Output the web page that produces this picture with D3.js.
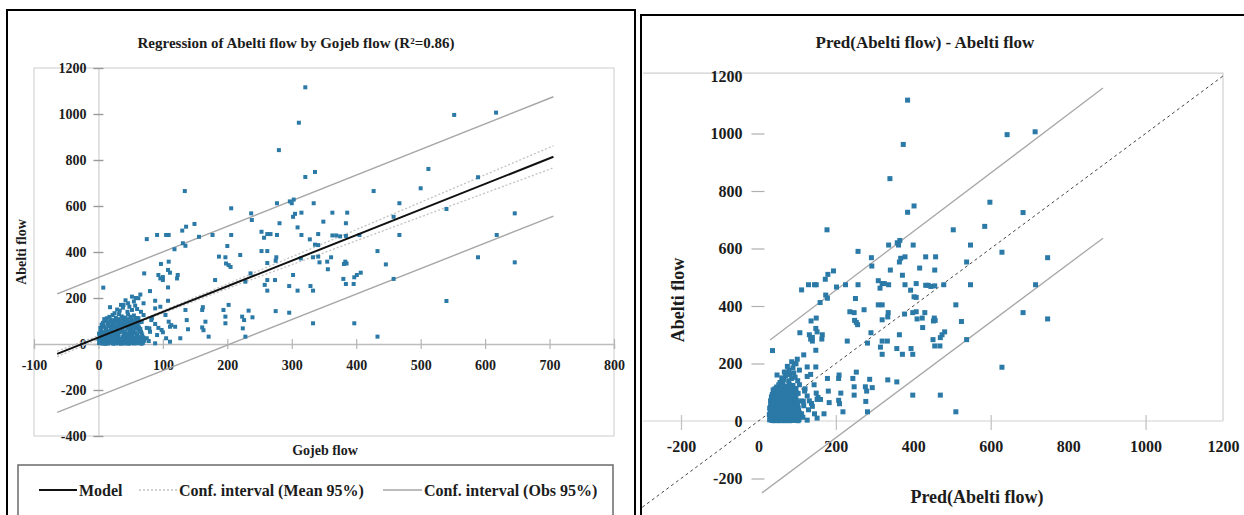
<!DOCTYPE html>
<html>
<head>
<meta charset="utf-8">
<script src="https://cdn.jsdelivr.net/npm/d3@7"></script>
<style>
  body { margin: 0; background: #fff; }
  svg text { font-family: "Liberation Serif", "Times New Roman", serif; font-weight: bold; fill: #1c1c1c; }
</style>
</head>
<body>
<svg id="chart" width="1244" height="515"></svg>
<script>
// Observed daily flows: [Gojeb flow, Abelti flow]
const flowPairs = [
  // main cloud near the origin
  [1,4],[4,10],[8,3],[12,8],[15,2],[19,12],[22,5],[26,9],[30,3],[34,11],[37,6],[41,2],[45,9],[49,4],[53,12],[57,6],[61,3],[65,10],[69,5],[3,15],[10,14],[28,14],[47,15],[63,16],
  [2,6],[6,2],[11,1],[14,13],[18,6],[23,1],[27,3],[31,15],[35,1],[39,13],[43,7],[47,1],[51,17],[55,2],[59,13],[63,7],[67,1],[71,14],
  [0,22],[5,28],[9,20],[13,31],[17,24],[21,33],[25,19],[29,27],[33,22],[38,30],[42,21],[46,34],[50,25],[54,29],[58,20],[62,31],[66,24],[70,28],[2,35],[24,36],[44,26],
  [3,25],[7,33],[11,25],[15,38],[19,18],[23,27],[27,34],[31,30],[36,18],[40,38],[44,17],[48,29],[52,36],[56,24],[60,36],[64,20],[68,37],
  [1,45],[6,40],[10,52],[14,42],[18,56],[22,44],[27,50],[31,39],[35,58],[39,47],[43,41],[48,55],[52,43],[56,51],[60,40],[64,57],[67,46],[4,60],[30,60],[50,62],
  [3,52],[8,47],[12,58],[16,48],[20,62],[25,55],[29,45],[33,52],[37,64],[41,55],[46,46],[50,50],[54,58],[58,47],[62,63],[66,53],
  [3,70],[8,78],[12,66],[16,82],[20,70],[24,76],[28,64],[33,84],[37,72],[41,80],[45,67],[49,75],[53,83],[57,69],[61,78],[65,65],
  [5,84],[10,72],[14,88],[18,76],[22,84],[26,72],[30,78],[35,78],[39,90],[43,75],[47,86],[51,70],[55,78],[59,88],[63,72],
  [7,92],[11,100],[15,95],[19,106],[23,90],[27,98],[31,108],[35,93],[39,102],[43,88],[47,97],[51,105],[55,91],[59,100],[63,94],
  [9,108],[13,112],[21,98],[25,104],[29,92],[33,100],[37,112],[41,96],[45,108],[49,90],[53,98],[57,110],[61,104],[67,96],
  [17,118],[22,126],[27,114],[32,130],[36,120],[41,115],[46,128],[50,118],[55,124],[60,113],[25,134],
  [29,150],[38,158],[48,162],[55,185],[60,152],[66,140],[18,160],[42,190],[65,215],[35,170],[58,200],
  [52,206],[62,199],[46,177],[39,170],[57,167],[70,177],[33,145],[45,140],[52,148],[70,126],[62,112],
  [88,155],[96,162],[104,126],[83,112],[111,75],[75,70],[80,53],[91,39],[98,61],[78,13],[88,3],[111,10],
  // low-to-medium flows
  [136,510],[149,522],[130,493],[75,456],[91,474],[105,474],[109,474],[131,438],[135,427],[177,474],[206,474],[156,466],
  [118,412],[109,358],[97,348],[200,426],[187,380],[197,377],[220,387],[202,343],[205,335],[198,350],
  [108,322],[111,310],[71,307],[93,300],[96,285],[100,278],[100,291],[122,285],[123,300],[181,278],[228,271],
  [7.5,245],[80,230],[108,246],[108,188],[88,188],[135,148],[161,148],[162,160],[194,148],[197,119],[202,170],
  [223,119],[226,104],[137,104],[166,97],[109,97],[113,82],[82,104],[88,87],[93,70],[79,68],[100,51],[105,25],
  [119,75],[139,64],[161,72],[163,60],[171,32],[127,25],[75,25],[197,90],[224,68],[228,32],
  // medium flows
  [238,539],[302,553],[281,525],[349,532],[384,525],[309,507],[458,553],[253,488],[262,478],[267,478],[257,462],
  [277,474],[315,474],[328,455],[341,478],[363,472],[369,472],[375,468],[384,470],[405,474],[341,430],[336,432],
  [467,474],[253,404],[262,404],[433,404],[276,377],[262,352],[275,362],[314,372],[333,377],[341,380],[343,355],
  [355,358],[361,377],[383,358],[381,348],[385,350],[356,325],[446,346],[236,307],[262,278],[274,278],[302,300],
  [258,257],[262,232],[296,252],[309,232],[329,252],[333,232],[380,283],[384,261],[396,261],[397,290],[401,300],
  [407,310],[458,283],[233,145],[239,116],[275,143],[296,136],[333,90],[397,90],[433,32],
  // high flows
  [134,665],[206,590],[321,1116],[311,962],[280,843],[321,726],[336,748],[427,665],[277,612],[297,620],[300,612],
  [303,628],[334,612],[467,612],[315,571],[305,566],[363,571],[386,571],[237,568],[552,996],[617,1006],[512,761],
  [500,677],[589,725],[540,587],[646,568],[618,474],[589,377],[646,355],[540,187]
];

// Fitted linear model: Abelti = intercept + slope * Gojeb
const modelIntercept = 28;
const modelSlope = 1.113;

// Model line and 95% intervals over the Gojeb range
const modelLine = [[-64, -43], [706, 814]];
const meanUpper = [[-64, -31], [0, 36], [80, 121], [200, 261], [400, 497], [706, 862]];
const meanLower = [[-64, -55], [0, 20], [80, 113], [200, 241], [400, 449], [706, 766]];
const obsUpper = [[-64, 218], [706, 1075]];
const obsLower = [[-64, -297], [706, 556]];

// Interval bounds in the predicted-vs-observed view
const predObsUpper = [[30, 282], [890, 1158]];
const predObsLower = [[9, -250], [890, 636]];
const identityLine = [[-300, -300], [1200, 1200]];

// Axis ticks
const leftXTicks = [-100, 0, 100, 200, 300, 400, 500, 600, 700, 800];
const leftYTicks = [-400, -200, 0, 200, 400, 600, 800, 1000, 1200];
const rightXTicks = [-200, 0, 200, 400, 600, 800, 1000, 1200];
const rightXMarks = [-200, 200, 600, 1000];
const rightYTicks = [-200, 0, 200, 400, 600, 800, 1000, 1200];
const rightYMarks = [-200, 200, 400, 600, 800, 1000];

const legendItems = ["Model", "Conf. interval (Mean 95%)", "Conf. interval (Obs 95%)"];

const pointColor = "#2b79a6";
const plainNumber = d => String(d);
const svg = d3.select("#chart");

// ---------- Left panel: regression ----------
const L = svg.append("g");
L.append("rect").attr("x", 7).attr("y", 10).attr("width", 628).attr("height", 540)
  .attr("fill", "none").attr("stroke", "#000").attr("stroke-width", 2);

const xL = d3.scaleLinear().domain([-100, 800]).range([34, 614]);
const yL = d3.scaleLinear().domain([-400, 1200]).range([436, 68]);

L.append("rect").attr("x", xL(-100)).attr("y", yL(1200))
  .attr("width", xL(800) - xL(-100)).attr("height", yL(-400) - yL(1200))
  .attr("fill", "none").attr("stroke", "#d4d4d4").attr("stroke-width", 1.2);

L.append("text").attr("x", 296).attr("y", 48).attr("text-anchor", "middle")
  .attr("font-size", 15).text("Regression of Abelti flow by Gojeb flow (R²=0.86)");

const yAxisL = L.append("g").attr("transform", `translate(${xL(0)},0)`)
  .call(d3.axisLeft(yL).tickValues(leftYTicks).tickSize(5).tickPadding(7).tickFormat(plainNumber));
yAxisL.select(".domain").attr("stroke", "#cfcfcf").attr("stroke-width", 1.2);
yAxisL.selectAll(".tick line").attr("x1", 5).attr("stroke", "#9a9a9a").attr("stroke-width", 1.4);
yAxisL.selectAll(".tick text").attr("font-size", 14).attr("font-family", "Liberation Serif").attr("font-weight", "bold");

const xAxisL = L.append("g").attr("transform", `translate(0,${yL(0)})`)
  .call(d3.axisBottom(xL).tickValues(leftXTicks).tickSize(5).tickPadding(11).tickFormat(plainNumber));
xAxisL.select(".domain").attr("stroke", "#bdbdbd").attr("stroke-width", 1.4);
xAxisL.selectAll(".tick line").attr("y1", -5).attr("stroke", "#b5b5b5").attr("stroke-width", 1.2);
xAxisL.selectAll(".tick text").attr("font-size", 14).attr("font-family", "Liberation Serif").attr("font-weight", "bold");

const lineL = d3.line().x(d => xL(d[0])).y(d => yL(d[1]));
L.append("path").attr("d", lineL(obsUpper)).attr("fill", "none").attr("stroke", "#a6a6a6").attr("stroke-width", 1.4);
L.append("path").attr("d", lineL(obsLower)).attr("fill", "none").attr("stroke", "#a6a6a6").attr("stroke-width", 1.4);
L.append("path").attr("d", lineL(meanUpper)).attr("fill", "none").attr("stroke", "#c2c2c2").attr("stroke-width", 1.3).attr("stroke-dasharray", "2,2");
L.append("path").attr("d", lineL(meanLower)).attr("fill", "none").attr("stroke", "#c2c2c2").attr("stroke-width", 1.3).attr("stroke-dasharray", "2,2");

L.append("g").selectAll("rect").data(flowPairs).join("rect")
  .attr("x", d => xL(d[0]) - 2).attr("y", d => yL(d[1]) - 2)
  .attr("width", 4).attr("height", 4).attr("fill", pointColor);

L.append("path").attr("d", lineL(modelLine)).attr("fill", "none").attr("stroke", "#111").attr("stroke-width", 2);

L.append("text").attr("x", 325).attr("y", 455).attr("text-anchor", "middle")
  .attr("font-size", 14).text("Gojeb flow");
L.append("text").attr("transform", "translate(26,252) rotate(-90)").attr("text-anchor", "middle")
  .attr("font-size", 14).text("Abelti flow");

// Legend
L.append("rect").attr("x", 18).attr("y", 465).attr("width", 595).attr("height", 70)
  .attr("fill", "#fff").attr("stroke", "#6a6a6a").attr("stroke-width", 1.5);
const legendSpots = [
  { x0: 39, x1: 77, tx: 79, stroke: "#111", width: 2, dash: null },
  { x0: 139, x1: 177, tx: 179, stroke: "#c2c2c2", width: 1.3, dash: "2,2" },
  { x0: 383, x1: 422, tx: 424, stroke: "#a6a6a6", width: 1.4, dash: null }
];
legendItems.forEach((label, i) => {
  const s = legendSpots[i];
  L.append("line").attr("x1", s.x0).attr("x2", s.x1).attr("y1", 490).attr("y2", 490)
    .attr("stroke", s.stroke).attr("stroke-width", s.width).attr("stroke-dasharray", s.dash);
  L.append("text").attr("x", s.tx).attr("y", 495.5).attr("font-size", 16).text(label);
});

// ---------- Right panel: predicted vs observed ----------
const R = svg.append("g");
R.append("rect").attr("x", 641).attr("y", 15).attr("width", 700).attr("height", 600)
  .attr("fill", "none").attr("stroke", "#000").attr("stroke-width", 2);

const xR = d3.scaleLinear().domain([-200, 1200]).range([681, 1223]);
const yR = d3.scaleLinear().domain([0, 1200]).range([421, 76]);

// plot area outline: top and right edges
R.append("path")
  .attr("d", `M643,${yR(1210)}H${xR(1200)}V${yR(0)}`)
  .attr("fill", "none").attr("stroke", "#d0d0d0").attr("stroke-width", 1.2);

R.append("text").attr("x", 925).attr("y", 48).attr("text-anchor", "middle")
  .attr("font-size", 17).text("Pred(Abelti flow) - Abelti flow");

const xAxisR = R.append("g").attr("transform", `translate(0,${yR(0)})`)
  .call(d3.axisBottom(xR).tickValues(rightXTicks).tickSize(0).tickPadding(20).tickFormat(plainNumber));
xAxisR.select(".domain").remove();
xAxisR.selectAll(".tick text").attr("font-size", 16).attr("font-family", "Liberation Serif").attr("font-weight", "bold");
R.append("line").attr("x1", 643).attr("x2", xR(1200)).attr("y1", yR(0)).attr("y2", yR(0))
  .attr("stroke", "#e0e0e0").attr("stroke-width", 1.4);
const xMarksR = R.append("g").attr("transform", `translate(0,${yR(0)})`)
  .call(d3.axisBottom(xR).tickValues(rightXMarks).tickSize(9).tickFormat(""));
xMarksR.select(".domain").remove();
xMarksR.selectAll(".tick line").attr("y1", -6).attr("stroke", "#c4c4c4").attr("stroke-width", 1.3);

const yAxisR = R.append("g").attr("transform", `translate(${xR(0)},0)`)
  .call(d3.axisLeft(yR).tickValues(rightYTicks).tickSize(7).tickPadding(9).tickFormat(plainNumber));
yAxisR.select(".domain").remove();
yAxisR.selectAll(".tick line").attr("x1", 6).attr("stroke", "#b0b0b0").attr("stroke-width", 1.2)
  .attr("display", d => rightYMarks.includes(d) ? null : "none");
yAxisR.selectAll(".tick text").attr("font-size", 16).attr("font-family", "Liberation Serif").attr("font-weight", "bold");

const lineR = d3.line().x(d => xR(d[0])).y(d => yR(d[1]));
R.append("path").attr("d", lineR(predObsUpper)).attr("fill", "none").attr("stroke", "#a8a8a8").attr("stroke-width", 1.3);
R.append("path").attr("d", lineR(predObsLower)).attr("fill", "none").attr("stroke", "#a8a8a8").attr("stroke-width", 1.3);
R.append("path").attr("d", lineR(identityLine)).attr("fill", "none").attr("stroke", "#444").attr("stroke-width", 1)
  .attr("stroke-dasharray", "3,3");

R.append("g").selectAll("rect").data(flowPairs).join("rect")
  .attr("x", d => xR(modelIntercept + modelSlope * d[0]) - 2.5)
  .attr("y", d => yR(d[1]) - 2.5)
  .attr("width", 5).attr("height", 5).attr("fill", pointColor);

R.append("text").attr("x", 977).attr("y", 503).attr("text-anchor", "middle")
  .attr("font-size", 18).text("Pred(Abelti flow)");
R.append("text").attr("transform", "translate(684,300) rotate(-90)").attr("text-anchor", "middle")
  .attr("font-size", 18).text("Abelti flow");
</script>
</body>
</html>
